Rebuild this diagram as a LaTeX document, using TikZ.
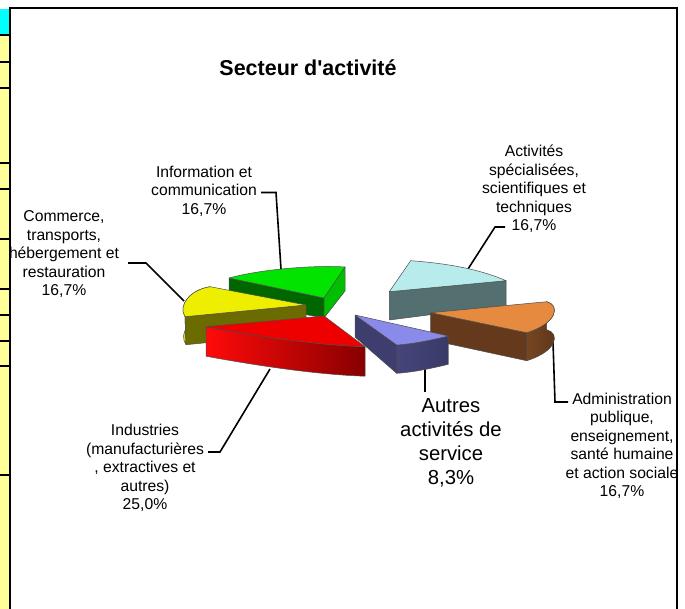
\documentclass[tikz,border=0pt]{standalone}
\usepackage{fontspec}
\setmainfont{Liberation Sans}
\definecolor{strip}{HTML}{FFFF99}
\definecolor{stripcyan}{HTML}{00FFFF}
\definecolor{gtop}{HTML}{00E400}
\definecolor{gdark}{HTML}{006600}
\definecolor{gside}{HTML}{00BE00}
\definecolor{ctop}{HTML}{B8ECEC}
\definecolor{cfront}{HTML}{536F6F}
\definecolor{ytop}{HTML}{EEEE00}
\definecolor{yside}{HTML}{E2E200}
\definecolor{yolive}{HTML}{6B6B00}
\definecolor{btop}{HTML}{E58A3E}
\definecolor{bfront}{HTML}{653A1C}
\definecolor{bsideA}{HTML}{764622}
\definecolor{bsideB}{HTML}{5A3418}
\definecolor{ptop}{HTML}{8A8AEA}
\definecolor{pleft}{HTML}{3D3D6E}
\definecolor{psideA}{HTML}{45457A}
\definecolor{psideB}{HTML}{6868AC}
\definecolor{psideC}{HTML}{3A3A68}
\definecolor{rtop}{HTML}{EE0000}
\definecolor{rsideA}{HTML}{FF0A0A}
\definecolor{rsideB}{HTML}{D80000}
\definecolor{rsideC}{HTML}{880000}
\begin{document}
\begin{tikzpicture}[x=1pt,y=-1pt,
  edge/.style={draw=black!70, line width=0.5pt, line join=round},
  leader/.style={draw=black, line width=1.6pt, line join=miter},
  lbl/.style={align=center, inner sep=0pt, font=\fontsize{15.7}{18.5}\selectfont},
  biglbl/.style={align=center, inner sep=0pt, font=\fontsize{20.3}{24}\selectfont},
  cellline/.style={draw=black, line width=1.5pt}]
\useasboundingbox (0,0) rectangle (685,609);
\fill[white] (0,0) rectangle (685,609);
% left strip of cells
\fill[strip] (0,9) rectangle (9,609);
\fill[stripcyan] (0,9) rectangle (9,35);
\foreach \yy in {35,62,88,163,189,239,289,315,341,366,475}
  \draw[cellline] (0,\yy) -- (9,\yy);
% frame
\draw[black, line width=2.3pt] (10,609) -- (10,8) -- (677,8) -- (677,609);
% leader coordinates
\coordinate (infoS) at (261,192.5);
\coordinate (infoK) at (276,192.5);
\coordinate (infoE) at (281,269);
\coordinate (comS) at (128,263);
\coordinate (comK) at (146,263);
\coordinate (comE) at (184,301);
\coordinate (indS) at (208,452);
\coordinate (indK) at (220,452);
\coordinate (indE) at (270,369);
\coordinate (autE) at (425,368);
\coordinate (autS) at (425,392);
\coordinate (admE) at (553,342);
\coordinate (admK) at (555,402);
\coordinate (admS) at (568,402);
\coordinate (actS) at (505,227);
\coordinate (actK) at (495,227);
\coordinate (actE) at (468,269);
\draw[leader] (infoS) -- (infoK) -- (infoE);
\draw[leader] (comS) -- (comK) -- (comE);
\draw[leader] (indS) -- (indK) -- (indE);
\draw[leader] (autS) -- (autE);
\draw[leader] (admS) -- (admK) -- (admE);
\draw[leader] (actS) -- (actK) -- (actE);
% green slice (Information et communication)
\filldraw[fill=gdark, edge] (229,278) -- (324,298) -- (324,318) -- (229,300) -- cycle;
\filldraw[fill=gside, edge] (324,298) -- (345,267) -- (345,291) -- (324,318) -- cycle;
\filldraw[fill=gtop, edge] (229,278) .. controls (262,269) and (315,265) .. (345,267) -- (324,298) -- cycle;
% cyan slice (Activites specialisees)
\filldraw[fill=cfront, edge] (389.3,291.7) -- (506,280.7) -- (506,305) -- (389.3,320) -- cycle;
\filldraw[fill=ctop, edge] (389.3,291.7) -- (410.7,260.7) .. controls (442,263) and (477,268) .. (506,280.7) -- cycle;
% yellow slice (Commerce)
\filldraw[fill=yside, edge] (210,286.7) .. controls (190,290) and (178,305) .. (185,316.7) -- (186,344.7) .. controls (178,333) and (190,318) .. (210,314.7) -- cycle;
\filldraw[fill=yolive, edge] (306,305) -- (185,316.7) -- (186,344.7) -- (306,333) -- cycle;
\filldraw[fill=ytop, edge] (306,305) -- (210,286.7) .. controls (190,290) and (178,305) .. (185,316.7) -- cycle;
% brown slice (Administration)
\shadedraw[left color=bsideA, right color=bsideB, edge] (546.7,301.7) .. controls (560,305) and (558,323) .. (526.7,332.7) -- (526.7,360.7) .. controls (558,351) and (560,333) .. (546.7,329.7) -- cycle;
\filldraw[fill=bfront, edge] (430.7,312.7) -- (526.7,332.7) -- (526.7,360.7) -- (430.7,340) -- cycle;
\filldraw[fill=btop, edge] (430.7,312.7) -- (546.7,301.7) .. controls (560,305) and (558,323) .. (526.7,332.7) -- cycle;
% blue slice (Autres activites de service)
\shadedraw[left color=psideA, middle color=psideB, right color=psideC, edge] (448.3,336) .. controls (432,340) and (413,344) .. (396.7,345) -- (396.7,373.3) .. controls (413,372.3) and (432,368.3) .. (448.3,364.3) -- cycle;
\filldraw[fill=pleft, edge] (355,315) -- (396.7,345) -- (396.7,373.3) -- (355,337) -- cycle;
\filldraw[fill=ptop, edge] (355,315) -- (448.3,336) .. controls (432,340) and (413,344) .. (396.7,345) -- cycle;
% red slice (Industries)
\shadedraw[left color=rsideA, middle color=rsideB, right color=rsideC, edge] (206,326.7) .. controls (240,333) and (310,345) .. (365,346.7) -- (365,376.2) .. controls (310,374.5) and (240,362.5) .. (206,356.2) -- cycle;
\filldraw[fill=rtop, edge] (324,316) -- (206,326.7) .. controls (240,333) and (310,345) .. (365,346.7) -- cycle;
% labels
\node[lbl] (info) at (204,191) {Information et\\communication\\16,7\%};
\node[lbl] (com) at (64,254.5) {Commerce,\\transports,\\hébergement et\\restauration\\16,7\%};
\node[lbl] (ind) at (145,468) {Industries\\(manufacturières\\, extractives et\\autres)\\25,0\%};
\node[biglbl] (aut) at (451,442.5) {Autres\\activités de\\service\\8,3\%};
\node[lbl] (adm) at (622,446) {Administration\\publique,\\enseignement,\\santé humaine\\et action sociale\\16,7\%};
\node[lbl] (act) at (534,189) {Activités\\spécialisées,\\scientifiques et\\techniques\\16,7\%};
\node[font=\bfseries\fontsize{21.5}{25}\selectfont, inner sep=0pt] (title) at (308,68) {Secteur d\XeTeXglyph\XeTeXcharglyph"27 activité};
\end{tikzpicture}
\end{document}
